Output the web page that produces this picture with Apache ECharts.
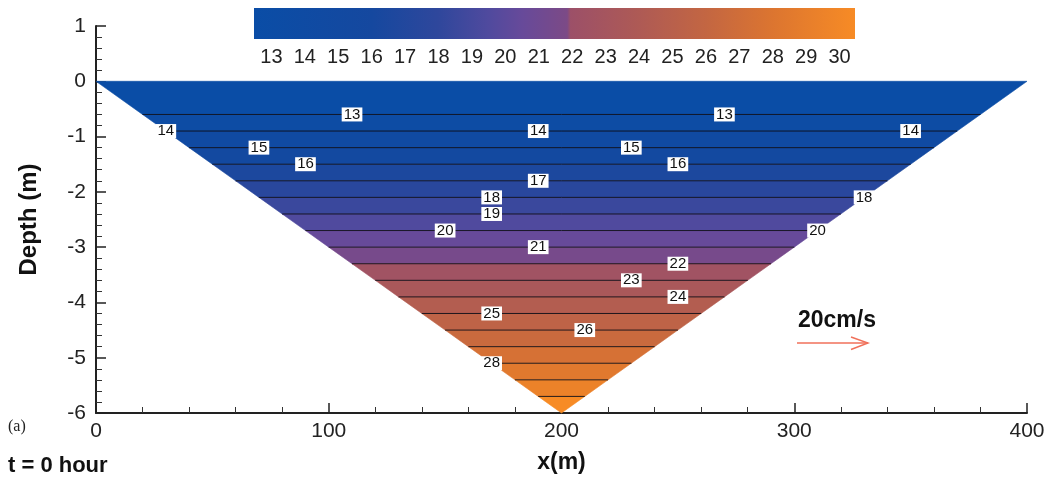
<!DOCTYPE html>
<html>
<head>
<meta charset="utf-8">
<script src="https://cdn.jsdelivr.net/npm/echarts@6/dist/echarts.min.js"></script>
<style>
html,body{margin:0;padding:0;background:#fff;}
#chart{width:1052px;height:483px;}
</style>
</head>
<body>
<div id="chart"></div>
<script>
// ---- data ----
const domainX = [0, 400, 200];        // triangle vertices x (m)
const domainDepth = [0, 0, -6];       // triangle vertices depth (m)
const contourLevels = [13,14,15,16,17,18,19,20,21,22,23,24,25,26,27,28,29,30];
const contourDepths = [-0.6,-0.9,-1.2,-1.5,-1.8,-2.1,-2.4,-2.7,-3.0,-3.3,-3.6,-3.9,-4.2,-4.5,-4.8,-5.1,-5.4,-5.7];
const labelLevels = [13,13,14,14,14,15,15,16,16,17,18,18,19,20,20,21,22,23,24,25,26,28];
const labelX      = [110,270,30,190,350,70,230,90,250,190,170,330,170,150,310,190,250,230,250,170,210,170];
const colorbarTicks = [13,14,15,16,17,18,19,20,21,22,23,24,25,26,27,28,29,30];
const colorbarRange = [12.48, 30.46];

// ---- colour map (style) ----
const cmap = [[12.45,'#0a4da6'],[16,'#15489f'],[18,'#2f479c'],[19.5,'#504a9e'],[20.5,'#674a9a'],
  [21.85,'#7c4a86'],[21.95,'#9c5068'],[24,'#ae5a55'],[26,'#c36642'],[28,'#dc7530'],[30.5,'#f78b25']];
function hex2rgb(h){return [parseInt(h.substr(1,2),16),parseInt(h.substr(3,2),16),parseInt(h.substr(5,2),16)];}
function colorAt(v){
  if (v <= cmap[0][0]) return cmap[0][1];
  for (let i=1;i<cmap.length;i++){
    if (v <= cmap[i][0]){
      const t=(v-cmap[i-1][0])/(cmap[i][0]-cmap[i-1][0]);
      const a=hex2rgb(cmap[i-1][1]), b=hex2rgb(cmap[i][1]);
      return 'rgb('+a.map((c,k)=>Math.round(c+(b[k]-c)*t)).join(',')+')';
    }
  }
  return cmap[cmap.length-1][1];
}

const apexX = domainX[2], apexD = domainDepth[2];
function edges(d){
  const f = d / apexD;
  return [domainX[0] + (apexX - domainX[0]) * f, domainX[1] + (apexX - domainX[1]) * f];
}

// bands between contour lines
const bandBounds = [domainDepth[0]].concat(contourDepths, [apexD]);
const bandData = [];
for (let i=0;i<bandBounds.length-1;i++){
  const val = i===0 ? contourLevels[0]-0.5 : contourLevels[i-1]+0.5;
  bandData.push([bandBounds[i], bandBounds[i+1], val]);
}
const labelData = labelLevels.map((lv,i)=>[labelX[i], contourDepths[contourLevels.indexOf(lv)], lv]);

const FONT = '"Liberation Sans", Arial, sans-serif';
const chart = echarts.init(document.getElementById('chart'), null, {renderer:'canvas'});

const axisCommon = {
  axisLine:{show:true,onZero:false,lineStyle:{color:'#222',width:2}},
  axisTick:{show:true,inside:true,length:10,lineStyle:{color:'#222',width:1.5}},
  minorTick:{show:true,splitNumber:5,length:6,lineStyle:{color:'#333',width:1}},
  splitLine:{show:false},
  axisLabel:{color:'#222',fontSize:21,fontFamily:FONT}
};

const stops = cmap.map(s=>({offset:Math.min(1,Math.max(0,(s[0]-colorbarRange[0])/(colorbarRange[1]-colorbarRange[0]))), color:s[1]}));

const option = {
  backgroundColor:'#fff',
  animation:false,
  grid:[
    {left:96,right:25,top:26,bottom:70},
    {left:254,width:601,top:8,height:31}
  ],
  xAxis:[
    Object.assign({}, axisCommon, {
      gridIndex:0,type:'value',min:0,max:400,interval:100,
      axisLabel:Object.assign({}, axisCommon.axisLabel,{margin:8}),
      name:'x(m)',nameLocation:'middle',nameGap:38,
      nameTextStyle:{fontSize:23,fontWeight:'bold',color:'#111',fontFamily:FONT}
    }),
    {gridIndex:1,type:'value',min:colorbarRange[0],max:colorbarRange[1],
      axisLine:{show:false},axisTick:{show:false},splitLine:{show:false},
      axisLabel:{show:true,customValues:colorbarTicks,margin:8,fontSize:20,color:'#222',fontFamily:FONT}}
  ],
  yAxis:[
    Object.assign({}, axisCommon, {
      gridIndex:0,type:'value',min:-6,max:1,interval:1,
      axisLabel:Object.assign({}, axisCommon.axisLabel,{margin:10}),
      name:'Depth (m)',nameLocation:'middle',nameGap:55,
      nameTextStyle:{fontSize:24,fontWeight:'bold',color:'#111',fontFamily:FONT}
    }),
    {gridIndex:1,type:'value',min:0,max:1,show:false}
  ],
  series:[
    {
      type:'custom',xAxisIndex:0,yAxisIndex:0,data:bandData,z:2,
      renderItem:function(params,api){
        const t=api.value(0), b=api.value(1), v=api.value(2);
        const et=edges(t), eb=edges(b);
        const pts=[api.coord([et[0],t]),api.coord([et[1],t]),api.coord([eb[1],b]),api.coord([eb[0],b])];
        const c=colorAt(v);
        return {type:'polygon',shape:{points:pts},style:{fill:c,stroke:c,lineWidth:0.6}};
      }
    },
    {
      type:'custom',xAxisIndex:0,yAxisIndex:0,data:contourDepths.map(d=>[d]),z:3,
      renderItem:function(params,api){
        const d=api.value(0), e=edges(d);
        const p1=api.coord([e[0],d]), p2=api.coord([e[1],d]);
        return {type:'line',shape:{x1:p1[0],y1:p1[1],x2:p2[0],y2:p2[1]},style:{stroke:'rgba(15,15,25,0.9)',lineWidth:1}};
      }
    },
    {
      type:'scatter',xAxisIndex:0,yAxisIndex:0,data:labelData,symbolSize:0,z:5,
      itemStyle:{opacity:1},
      emphasis:{disabled:true},
      label:{show:true,position:'inside',formatter:p=>String(p.value[2]),opacity:1,
        backgroundColor:'#ffffff',color:'#111',fontSize:15,fontFamily:FONT,padding:[0,2],lineHeight:14}
    },
    {
      type:'custom',xAxisIndex:1,yAxisIndex:1,data:[colorbarRange],z:2,
      renderItem:function(params,api){
        const p1=api.coord([api.value(0),1]), p2=api.coord([api.value(1),0]);
        return {type:'rect',shape:{x:p1[0],y:p1[1],width:p2[0]-p1[0],height:p2[1]-p1[1]},
          style:{fill:new echarts.graphic.LinearGradient(0,0,1,0,stops)}};
      }
    }
  ],
  graphic:[
    {type:'text',left:8,top:419,style:{text:'(a)',font:'16px "Liberation Serif", "Times New Roman", serif',fill:'#222'}},
    {type:'text',left:8,top:455,style:{text:'t = 0 hour',font:'bold 22px '+FONT,fill:'#111'}},
    {type:'text',left:798,top:309,style:{text:'20cm/s',font:'bold 23px '+FONT,fill:'#111'}},
    {type:'group',children:[
      {type:'line',shape:{x1:797,y1:343,x2:868,y2:343},style:{stroke:'#f0705a',lineWidth:1.4}},
      {type:'polyline',shape:{points:[[851,337],[868,343],[851,349.5]]},style:{stroke:'#f0705a',lineWidth:1.4,fill:null}}
    ]}
  ]
};
chart.setOption(option);
</script>
</body>
</html>
